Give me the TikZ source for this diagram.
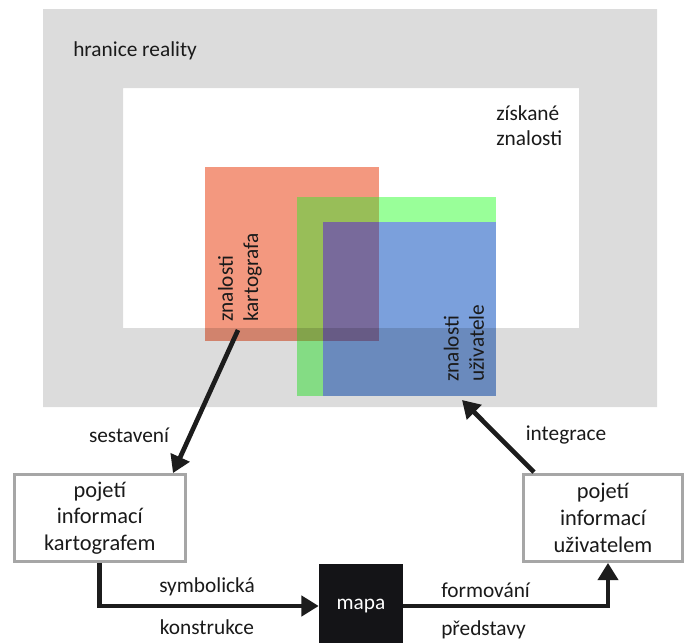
\documentclass[tikz,border=0pt]{standalone}
\usepackage{fontspec}
\setmainfont{Carlito}
\usetikzlibrary{arrows.meta,calc}
\definecolor{txt}{RGB}{26,26,26}
\definecolor{arrc}{RGB}{28,28,28}
\definecolor{boxc}{RGB}{166,166,166}
\definecolor{mapac}{RGB}{20,20,23}
\definecolor{redc}{RGB}{243,152,127}
\definecolor{greenc}{RGB}{153,255,153}
\definecolor{bluec}{RGB}{123,160,220}
\definecolor{olivec}{RGB}{152,190,88}
\definecolor{purplec}{RGB}{120,106,155}
\begin{document}
\begin{tikzpicture}[x=0.75pt,y=-0.75pt,
  font=\fontsize{16}{19}\selectfont, text=txt,
  arr/.style={line width=3.5pt, draw=arrc, -{Triangle[length=13pt,width=15pt]}},
  boxst/.style={draw=boxc, line width=2.3pt, fill=white, align=center, inner sep=0pt, font=\fontsize{16.8}{20}\selectfont},
  lbl/.style={inner sep=0pt}]
\useasboundingbox (0,0) rectangle (686,643);
\fill[white] (0,0) rectangle (686,643);
% knowledge squares
\fill[greenc] (297,197) rectangle (496,396);
\fill[bluec] (323,222) rectangle (496,396);
\fill[redc] (205,167) rectangle (379,341);
\fill[olivec] (297,197) rectangle (379,341);
\fill[purplec] (323,222) rectangle (379,341);
% reality frame
\fill[black, fill opacity=0.137, even odd rule] (43,9) rectangle (657,407) (123,88) rectangle (579,328);
% texts
\node[lbl, anchor=base west] (hr) at (73,56) {hranice reality};
\node[lbl, anchor=north west, align=left] (zz) at (496,105) {získané\\znalosti};
\node[lbl, rotate=90, anchor=west, align=left] (zk) at (240,322) {znalosti\\kartografa};
\node[lbl, rotate=90, anchor=west, align=left] (zu) at (464,382) {znalosti\\uživatele};
% boxes
\node[boxst, minimum width=128.5pt, minimum height=65pt] (lb) at (99.8,518) {pojetí\\informací\\kartografem};
\node[boxst, minimum width=119.25pt, minimum height=65pt] (rb) at (603,518) {pojetí\\informací\\uživatelem};
\node[fill=mapac, text=white, minimum width=63pt, minimum height=63pt, inner sep=0pt] (mapa) at (361,606) {mapa};
% arrows
\coordinate (a1s) at (238,330);
\coordinate (a2e) at (462,400);
\draw[arr] (a1s) -- ($(lb.north east)+(-14,0)$);
\draw[arr] ($(rb.north west)+(12,-1)$) -- (a2e);
\draw[arr] (lb.south) |- (mapa.west);
\draw[arr] (mapa.east) -| ($(rb.south)+(5,0)$);
% connector labels
\node[lbl] (ses) at (129,435) {sestavení};
\node[lbl] (int) at (566,435) {integrace};
\node[lbl] (sym) at (207,587) {symbolická};
\node[lbl] (kon) at (207,627) {konstrukce};
\node[lbl, anchor=west] (for) at (441,590) {formování};
\node[lbl, anchor=west] (pre) at (441,630) {představy};
\end{tikzpicture}
\end{document}
